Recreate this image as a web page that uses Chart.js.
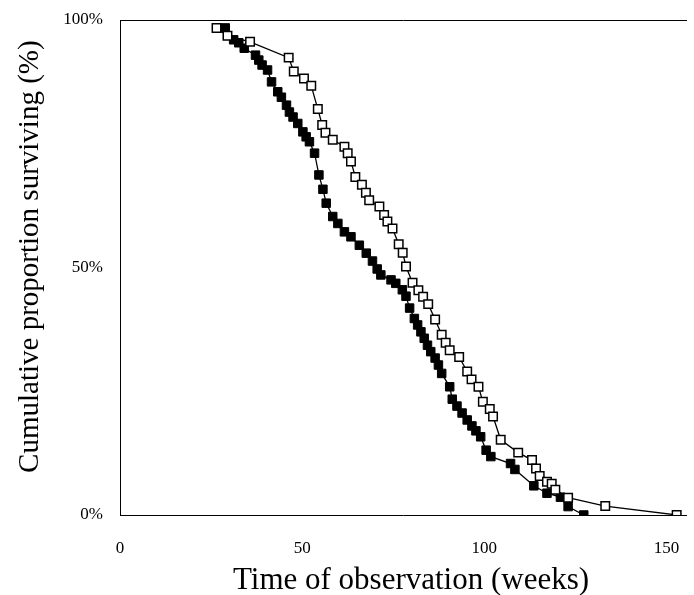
<!DOCTYPE html>
<html>
<head>
<meta charset="utf-8">
<script src="https://cdn.jsdelivr.net/npm/chart.js@4"></script>
<style>
  html, body { margin: 0; padding: 0; background: #fff; }
  #wrap { width: 694px; height: 595px; }
</style>
</head>
<body>
<div id="wrap"><canvas id="c" width="694" height="595"></canvas></div>
<script>
// Filled squares series: time (weeks) and cumulative proportion surviving (%)
const weeksFilled = [28.9, 31.2, 32.6, 34.1, 37.2, 38.1, 39.0, 40.5, 41.6, 43.3, 44.3, 45.7, 46.5, 47.5, 48.8, 50.2, 51.1, 52.0, 53.4, 54.6, 55.7, 56.6, 58.4, 59.8, 61.6, 63.4, 65.7, 67.6, 69.3, 70.6, 71.6, 74.4, 75.7, 77.5, 78.5, 79.5, 80.8, 81.7, 82.6, 83.5, 84.4, 85.3, 86.5, 87.4, 88.3, 90.5, 91.2, 92.5, 93.9, 95.3, 96.6, 97.7, 99.0, 100.5, 101.8, 107.2, 108.4, 113.6, 117.2, 120.9, 123.0, 127.3];
const survFilled  = [98.4, 96.0, 95.4, 94.3, 92.9, 91.9, 90.9, 89.9, 87.5, 85.5, 84.4, 82.8, 81.4, 80.4, 79.1, 77.4, 76.4, 75.4, 73.1, 68.7, 65.8, 63.0, 60.3, 58.9, 57.2, 56.2, 54.5, 52.9, 51.3, 49.7, 48.5, 47.5, 46.8, 45.5, 44.2, 41.8, 39.7, 38.4, 37.0, 35.7, 34.3, 33.0, 31.7, 30.3, 28.6, 25.9, 23.4, 22.0, 20.6, 19.2, 18.0, 17.0, 15.8, 13.1, 11.8, 10.4, 9.2, 5.9, 4.4, 3.6, 1.7, 0];

// Open squares series
const weeksOpen = [26.5, 29.5, 35.7, 46.3, 47.7, 50.5, 52.5, 54.3, 55.5, 56.4, 58.4, 61.6, 62.5, 63.4, 64.6, 66.4, 67.5, 68.4, 71.2, 72.5, 73.4, 74.8, 76.5, 77.6, 78.5, 80.3, 81.9, 83.2, 84.6, 86.5, 88.3, 89.4, 90.5, 93.1, 95.3, 96.5, 98.4, 99.6, 101.5, 102.4, 104.5, 109.3, 113.1, 114.2, 115.2, 117.2, 118.5, 119.5, 123.0, 133.2, 152.8];
const survOpen  = [98.4, 96.8, 95.6, 92.4, 89.6, 88.2, 86.7, 82.0, 78.8, 77.2, 75.8, 74.4, 73.1, 71.4, 68.3, 66.7, 65.1, 63.6, 62.3, 60.6, 59.3, 57.9, 54.7, 53.0, 50.2, 46.9, 45.4, 44.1, 42.6, 39.5, 36.4, 34.8, 33.3, 31.9, 29.0, 27.4, 25.9, 22.9, 21.4, 19.9, 15.2, 12.6, 11.1, 9.4, 7.9, 6.7, 6.3, 5.1, 3.5, 1.8, 0];

const xTicks = [0, 50, 100, 150];
const yTicks = [0, 50, 100];
const xTitle = 'Time of observation (weeks)';
const yTitle = 'Cumulative proportion surviving (%)';

const toPts = (xs, ys) => xs.map((x, i) => ({ x: x, y: ys[i] }));
const serif = 'Liberation Serif, Times New Roman, serif';
const X_MAX = 155.5;
const NB = '\u00a0';

new Chart(document.getElementById('c'), {
  type: 'line',
  data: {
    datasets: [
      {
        label: 'open',
        data: toPts(weeksOpen, survOpen),
        borderColor: '#000',
        borderWidth: 1.3,
        pointStyle: 'rect',
        pointRadius: 6,
        pointBorderWidth: 1.5,
        pointBackgroundColor: '#fff',
        pointBorderColor: '#000',
        tension: 0,
        fill: false
      },
      {
        label: 'filled',
        data: toPts(weeksFilled, survFilled),
        borderColor: '#000',
        borderWidth: 1.3,
        pointStyle: 'rect',
        pointRadius: 6,
        pointBorderWidth: 1,
        pointBackgroundColor: '#000',
        pointBorderColor: '#000',
        tension: 0,
        fill: false
      }
    ]
  },
  options: {
    responsive: false,
    animation: false,
    devicePixelRatio: 1,
    layout: { padding: { left: 0, right: 6, top: 0, bottom: 0 } },
    plugins: { legend: { display: false }, tooltip: { enabled: false } },
    scales: {
      x: {
        type: 'linear',
        position: 'bottom',
        min: 0, max: X_MAX,
        afterBuildTicks: s => { s.ticks = xTicks.map(v => ({ value: v })); },
        afterFit: s => { s.height = 80; s.paddingLeft = 0; s.paddingRight = 0; },
        grid: { display: false, drawTicks: false },
        border: { display: true, color: '#000', width: 1 },
        ticks: { color: '#000', font: { family: serif, size: 17 }, padding: 23, maxRotation: 0 },
        title: { display: true, text: NB + NB + xTitle, color: '#000', font: { family: serif, size: 31 }, padding: { top: 0, bottom: -4 } }
      },
      x2: {
        type: 'linear',
        position: 'top',
        min: 0, max: X_MAX,
        afterFit: s => { s.height = 20; s.paddingLeft = 0; s.paddingRight = 0; },
        grid: { display: false, drawTicks: false },
        border: { display: true, color: '#000', width: 1 },
        ticks: { display: false }
      },
      y: {
        min: 0, max: 100,
        afterBuildTicks: s => { s.ticks = yTicks.map(v => ({ value: v })); },
        afterFit: s => { s.width = 120; s.paddingTop = 0; s.paddingBottom = 0; },
        grid: { display: false, drawTicks: false },
        border: { display: true, color: '#000', width: 1 },
        ticks: { color: '#000', font: { family: serif, size: 17 }, padding: 17, callback: v => v + '%' },
        title: { display: true, text: NB + NB + NB + yTitle, color: '#000', font: { family: serif, size: 29 }, padding: { top: 13, bottom: 0 } }
      }
    }
  }
});
</script>
</body>
</html>
